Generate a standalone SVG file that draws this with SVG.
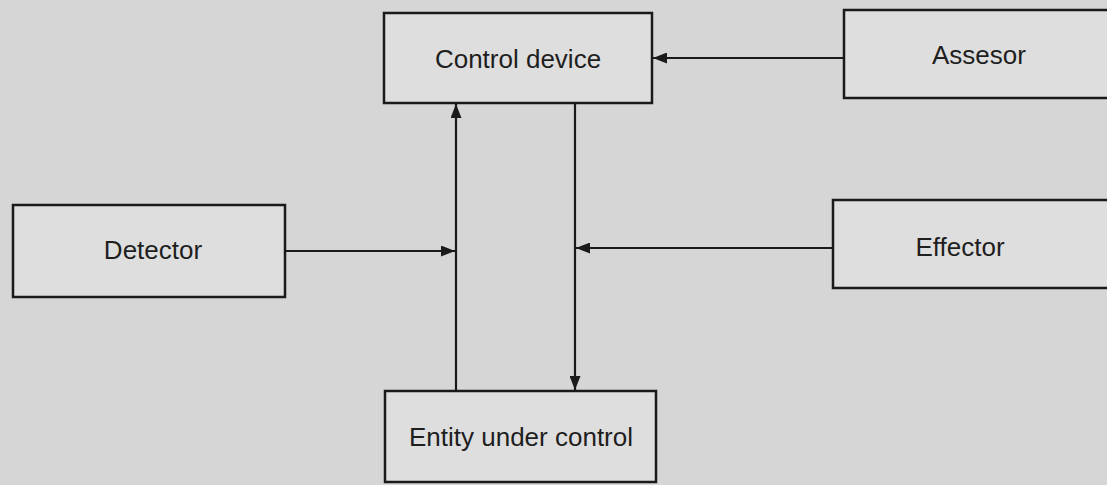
<svg xmlns="http://www.w3.org/2000/svg" width="1107" height="485" viewBox="0 0 1107 485">
<style>
.box{fill:#dedede;stroke:#1a1a1a;stroke-width:2.5}
.lbl{font-family:"Liberation Sans",Arial,sans-serif;font-size:26px;fill:#1e1e1e;text-anchor:middle;dominant-baseline:central}
.ln{stroke:#1a1a1a;stroke-width:2.2;fill:none}
</style>
<defs>
<marker id="ah" viewBox="0 0 14 11" refX="14" refY="5.5" markerWidth="14" markerHeight="11" markerUnits="userSpaceOnUse" orient="auto">
<path d="M0,0 L14,5.5 L0,11 Z" fill="#1a1a1a"/>
</marker>
</defs>
<rect x="0" y="0" width="1107" height="485" fill="#d6d6d6"/>
<g id="connectors">
<line class="ln" x1="844" y1="58" x2="653" y2="58" marker-end="url(#ah)"/>
<line class="ln" x1="282" y1="251" x2="455" y2="251" marker-end="url(#ah)"/>
<line class="ln" x1="833" y1="248" x2="576" y2="248" marker-end="url(#ah)"/>
<line class="ln" x1="456" y1="391" x2="456" y2="104" marker-end="url(#ah)"/>
<line class="ln" x1="575" y1="103" x2="575" y2="390" marker-end="url(#ah)"/>
</g>
<g id="control-device">
<rect class="box" x="384" y="13" width="268" height="90"/>
<text class="lbl" x="518" y="59">Control device</text>
</g>
<g id="assesor">
<rect class="box" x="844" y="10" width="275" height="88"/>
<text class="lbl" x="979" y="55">Assesor</text>
</g>
<g id="detector">
<rect class="box" x="13" y="205" width="272" height="92"/>
<text class="lbl" x="153" y="250">Detector</text>
</g>
<g id="effector">
<rect class="box" x="833" y="200" width="285" height="88"/>
<text class="lbl" x="960" y="247">Effector</text>
</g>
<g id="entity-under-control">
<rect class="box" x="385" y="391" width="271" height="91"/>
<text class="lbl" x="521" y="437">Entity under control</text>
</g>
</svg>
